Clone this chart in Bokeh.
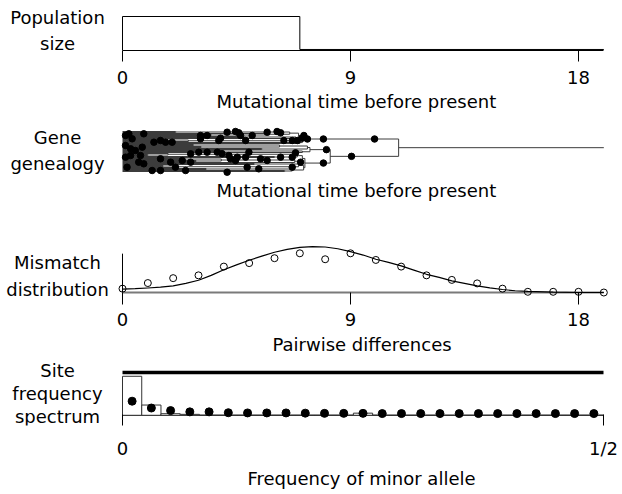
from bokeh.plotting import figure
from bokeh.layouts import column
from bokeh.models import Range1d, FixedTicker, Title
from bokeh.embed import file_html
from bokeh.resources import INLINE
from bokeh.core.properties import value

FONT = "DejaVu Sans"
FS = "18px"

# ---------------- data ----------------
time_ticks = [0, 9, 18]
time_axis_bounds = (0, 19)

# population size history (step function, backwards in time)
pop_times = [0, 7, 19]
pop_sizes = [1.0, 0.03, 0.03]

# gene genealogy: (time, child, child[, name]); "L" = sampled gene at time 0
L = "L"
clade_A = (7.1,
           (6.95, (6.6, (2.1, L, L), (5.8, L, (3.5, L, L))), (6.85, (4.8, L, L), L)),
           (7.0, (6.7, (2.6, (1.4, L, L), L), L), L),
           "A")
clade_B1 = (7.4,
            (7.3, (6.2, (2.8, L, L), (3.1, L, L)), (5.5, L, L)),
            (7.1, (4.0, L, L), L),
            "B1")
clade_B2 = (7.2,
            (7.1, (6.9, (1.8, L, (1.0, L, L)), (6.0, L, L)),
                  (6.8, (3.9, (2.4, L, L), (2.9, L, L)), L)),
            (7.15, (6.95, (5.2, L, L), (2.2, (1.6, L, L), L)),
                   (6.7, (3.3, L, L), (6.4, L, L))),
            "B2")
clade_B = (8.2, clade_B1, clade_B2, "B")
tree_root = (10.9, clade_A, clade_B, "root")
root_branch_end = 19

# mutations inside the dense part of the genealogy (time, row)
tree_mut_t = [0.12, 0.25, 0.38, 0.84, 0.12, 0.32, 0.51, 0.78, 1.24, 1.5, 1.7, 1.96,
              0.12, 0.32, 0.71, 0.64, 0.84, 0.18, 1.17, 1.5, 2.49, 2.09, 3.08, 3.08,
              3.34, 3.8, 3.87, 4.13, 4.46, 4.59, 4.66, 4.86, 5.12, 5.71, 6.1, 6.24,
              6.37, 6.7, 6.9, 7.09, 7.16, 2.69, 3.01, 3.34, 3.74, 3.93, 4.2, 4.26,
              4.46, 4.53, 4.86, 4.99, 5.45, 5.71, 6.24, 6.7, 6.83, 4.92, 5.38, 4.13,
              2.69, 2.36, 1.9, 1.5, 6.7, 7.03]
tree_mut_row = [15, 13.3, 18.3, 13.3, 25, 28.3, 30, 26.7, 21.7, 20, 21.7, 21.7,
                36.7, 35, 35, 41.7, 43.3, 46.7, 50, 50, 50, 46.7, 18.3, 15,
                15, 20, 17.7, 11.7, 11, 12.3, 15, 20, 15, 11.7, 11, 12.3,
                20, 20, 20, 17.7, 15, 33.3, 31.7, 31.7, 31.7, 33.3, 35, 38.3,
                40, 36.7, 36.7, 31.7, 38.3, 40, 36.7, 36.7, 32.3, 46.7, 48.3, 51.7,
                41.7, 40, 41.7, 38.3, 46.7, 41.7]
# mutations on the deep branches (branch named by its lower node, time)
tree_branch_mut_node = ["A", "A", "A", "B", "B1", "B2"]
tree_branch_mut_t = [7.3, 7.93, 9.95, 9.04, 8.05, 7.93]

# mismatch distribution
mm_k = list(range(20))
mm_observed = [0.011, 0.027, 0.041, 0.049, 0.074, 0.084, 0.098, 0.112, 0.095, 0.112,
               0.093, 0.074, 0.049, 0.036, 0.026, 0.011, 0.002, 0.002, 0.002, 0.0]
mm_curve_x = [0, 0.5, 1, 1.5, 2, 2.5, 3, 3.5, 4, 4.5, 5, 5.5, 6, 6.5, 7, 7.5, 8, 8.5,
              9, 9.5, 10, 10.5, 11, 11.5, 12, 12.5, 13, 13.5, 14, 14.5, 15, 15.5, 16,
              17, 18, 19]
mm_curve_y = [0.0094, 0.0109, 0.0129, 0.0151, 0.019, 0.026, 0.035, 0.049, 0.065, 0.079,
              0.092, 0.104, 0.115, 0.123, 0.129, 0.131, 0.130, 0.125, 0.117, 0.107,
              0.095, 0.086, 0.076, 0.064, 0.052, 0.043, 0.033, 0.026, 0.019, 0.013,
              0.0086, 0.005, 0.003, 0.001, 0.0, 0.0]
mm_axis_top = 0.111

# site frequency spectrum (sample of 50, folded: 25 classes)
sfs_n = 50
sfs_classes = list(range(25))
sfs_observed = [0.913, 0.24, 0.037, 0.022, 0, 0, 0, 0, 0, 0, 0, 0, 0.05,
                0, 0, 0, 0, 0, 0, 0, 0, 0, 0, 0, 0]
sfs_expected = [0.33, 0.17, 0.11, 0.08, 0.08, 0.06, 0.055, 0.055, 0.055, 0.05, 0.045,
                0.045, 0.045, 0.04, 0.04, 0.04, 0.04, 0.04, 0.04, 0.04, 0.04, 0.04,
                0.04, 0.04, 0.04]
sfs_upper_level = 1.0
sfs_domain = [0, 0.5]
sfs_ticks = [0, 0.5]
sfs_tick_labels = {0: "0", 0.5: "1/2"}

panel_labels = [["Population", "size"], ["Gene", "genealogy"],
                ["Mismatch", "distribution"], ["Site", "frequency", "spectrum"]]
x_labels = ["Mutational time before present", "Mutational time before present",
            "Pairwise differences", "Frequency of minor allele"]

# ---------------- layout constants (screen px) ----------------
W = 620
AXIS_X = 122                # screen x of the origin
LABEL_CX = 57               # screen x of the panel captions
PX_PER_T = 456 / 18.0       # screen px per unit of time
PX_PER_F = 962.0            # screen px per unit of allele frequency
T_RANGE = (-AXIS_X / PX_PER_T, (W - AXIS_X) / PX_PER_T)
F_RANGE = (-AXIS_X / PX_PER_F, (W - AXIS_X) / PX_PER_F)
XLABEL_LEFT = [216, 216, 272, 247]     # screen x where each axis title starts


def main_fig(h, xr, yr, bb, ticks, tin, tout, lstand, with_axis=True):
    p = figure(width=W, height=h, x_range=Range1d(*xr), y_range=yr,
               output_backend="svg", toolbar_location=None, y_axis_location=None,
               x_axis_location="below" if with_axis else None,
               min_border_left=0, min_border_right=0, min_border_top=0,
               min_border_bottom=bb)
    p.grid.visible = False
    p.outline_line_color = None
    if with_axis:
        ax = p.xaxis[0]
        ax.ticker = FixedTicker(ticks=ticks)
        ax.major_tick_in = tin
        ax.major_tick_out = tout
        ax.minor_tick_in = 0
        ax.minor_tick_out = 0
        ax.major_tick_line_color = "black"
        ax.major_label_text_font = FONT
        ax.major_label_text_font_size = FS
        ax.major_label_text_color = "black"
        ax.major_label_standoff = lstand
    return p


def x_title(p, text, standoff, left):
    p.add_layout(Title(text=text, align="left", offset=left,
                       standoff=standoff, text_font=FONT, text_font_size=FS,
                       text_font_style="normal", text_color="black"), "below")


def captions(p, lines, x, ys):
    p.text(x=[x] * len(lines), y=ys, text=lines, text_align="center",
           text_baseline="alphabetic", text_font=value(FONT),
           text_font_size=value(FS), text_color="black")


LX_T = (LABEL_CX - AXIS_X) / PX_PER_T
LX_F = (LABEL_CX - AXIS_X) / PX_PER_F

# ---- panel 1: population size (frame: screen y 0..50, baseline at 50) ----
P1_PX = 34.0
p1 = main_fig(120, T_RANGE, Range1d(0, 50 / P1_PX), 70, time_ticks, 0, 11, 9)
p1.xaxis[0].bounds = time_axis_bounds
p1.xaxis[0].axis_line_color = "black"
x_title(p1, x_labels[0], 5, XLABEL_LEFT[0])
p1.step(x=pop_times, y=pop_sizes, mode="after", line_color="black", line_width=1)
p1.segment(x0=[0], y0=[0], x1=[0], y1=[pop_sizes[0]], line_color="black", line_width=1)
captions(p1, panel_labels[0], LX_T, [(50 - 16.5) / P1_PX, (50 - 42.5) / P1_PX])

# ---- panel 2: gene genealogy (frame: screen y 120..176) ----
hseg, vseg, ypos = [], [], {}
state = {"next": 11}


def layout_tree(node, parent_t):
    if node == L:
        y = state["next"]
        state["next"] += 1
        hseg.append((0, parent_t, y))
        return y
    t = node[0]
    ya = layout_tree(node[1], t)
    yb = layout_tree(node[2], t)
    vseg.append((t, ya, yb))
    y = (ya + yb) / 2.0
    hseg.append((t, parent_t, y))
    if len(node) > 3:
        ypos[node[3]] = y
    return y


layout_tree(tree_root, root_branch_end)

p2 = main_fig(116, T_RANGE, Range1d(56, 0), 60, [], 0, 0, 0, with_axis=False)
x_title(p2, x_labels[1], 3, XLABEL_LEFT[1])
TREE_COL = "#3c3c3c"
p2.segment(x0=[s[0] for s in hseg], y0=[s[2] for s in hseg],
           x1=[s[1] for s in hseg], y1=[s[2] for s in hseg],
           line_color=TREE_COL, line_width=1)
p2.segment(x0=[s[0] for s in vseg], y0=[s[1] for s in vseg],
           x1=[s[0] for s in vseg], y1=[s[2] for s in vseg],
           line_color=TREE_COL, line_width=1)
p2.scatter(x=tree_mut_t, y=tree_mut_row, size=6.5, marker="circle",
           fill_color="black", line_color="black")
p2.scatter(x=tree_branch_mut_t, y=[ypos[n] for n in tree_branch_mut_node], size=6.5,
           marker="circle", fill_color="black", line_color="black")
captions(p2, panel_labels[1], LX_T, [136.5 - 120, 162.5 - 120])

# ---- panel 3: mismatch distribution (frame: screen y 236..298, baseline 292) ----
MM_PX = 350.0
p3 = main_fig(124, T_RANGE, Range1d(-6 / MM_PX, 56 / MM_PX), 62, time_ticks, 6, 6, 8)
p3.xaxis[0].axis_line_color = None
x_title(p3, x_labels[2], 6, XLABEL_LEFT[2])
p3.line(x=list(time_axis_bounds), y=[0, 0], line_color="#7a7a7a", line_width=2)
p3.segment(x0=[0], y0=[0], x1=[0], y1=[mm_axis_top], line_color="black", line_width=1)
p3.line(x=mm_curve_x, y=mm_curve_y, line_color="black", line_width=1.2)
p3.scatter(x=mm_k, y=mm_observed, size=7, marker="circle", fill_color=None,
           line_color="black", line_width=1)
captions(p3, panel_labels[2], LX_T, [(292 - 261.5) / MM_PX, (292 - 288.5) / MM_PX])

# ---- panel 4: site frequency spectrum (frame: screen y 360..430, baseline 419) ----
SFS_PX = 46.0
p4 = main_fig(132, F_RANGE, Range1d(-11 / SFS_PX, 59 / SFS_PX), 62, sfs_ticks, 11, 0, 12)
p4.xaxis[0].axis_line_color = None
p4.xaxis[0].major_label_overrides = sfs_tick_labels
x_title(p4, x_labels[3], 8, XLABEL_LEFT[3])
p4.line(x=sfs_domain, y=[0, 0], line_color="black", line_width=1)
p4.line(x=sfs_domain, y=[sfs_upper_level, sfs_upper_level], line_color="black",
        line_width=3.5)
p4.quad(left=[i / sfs_n for i in sfs_classes], right=[(i + 1) / sfs_n for i in sfs_classes],
        bottom=[0] * len(sfs_classes), top=sfs_observed, fill_color="white",
        line_color="#333333", line_width=1)
p4.scatter(x=[(i + 0.5) / sfs_n for i in sfs_classes], y=sfs_expected, size=8,
           marker="circle", fill_color="black", line_color="black")
captions(p4, panel_labels[3], LX_F,
         [(419 - 370.5) / SFS_PX, (419 - 396) / SFS_PX, (419 - 420) / SFS_PX])

layout = column(p1, p2, p3, p4)
open("out.html", "w").write(file_html(layout, INLINE))
